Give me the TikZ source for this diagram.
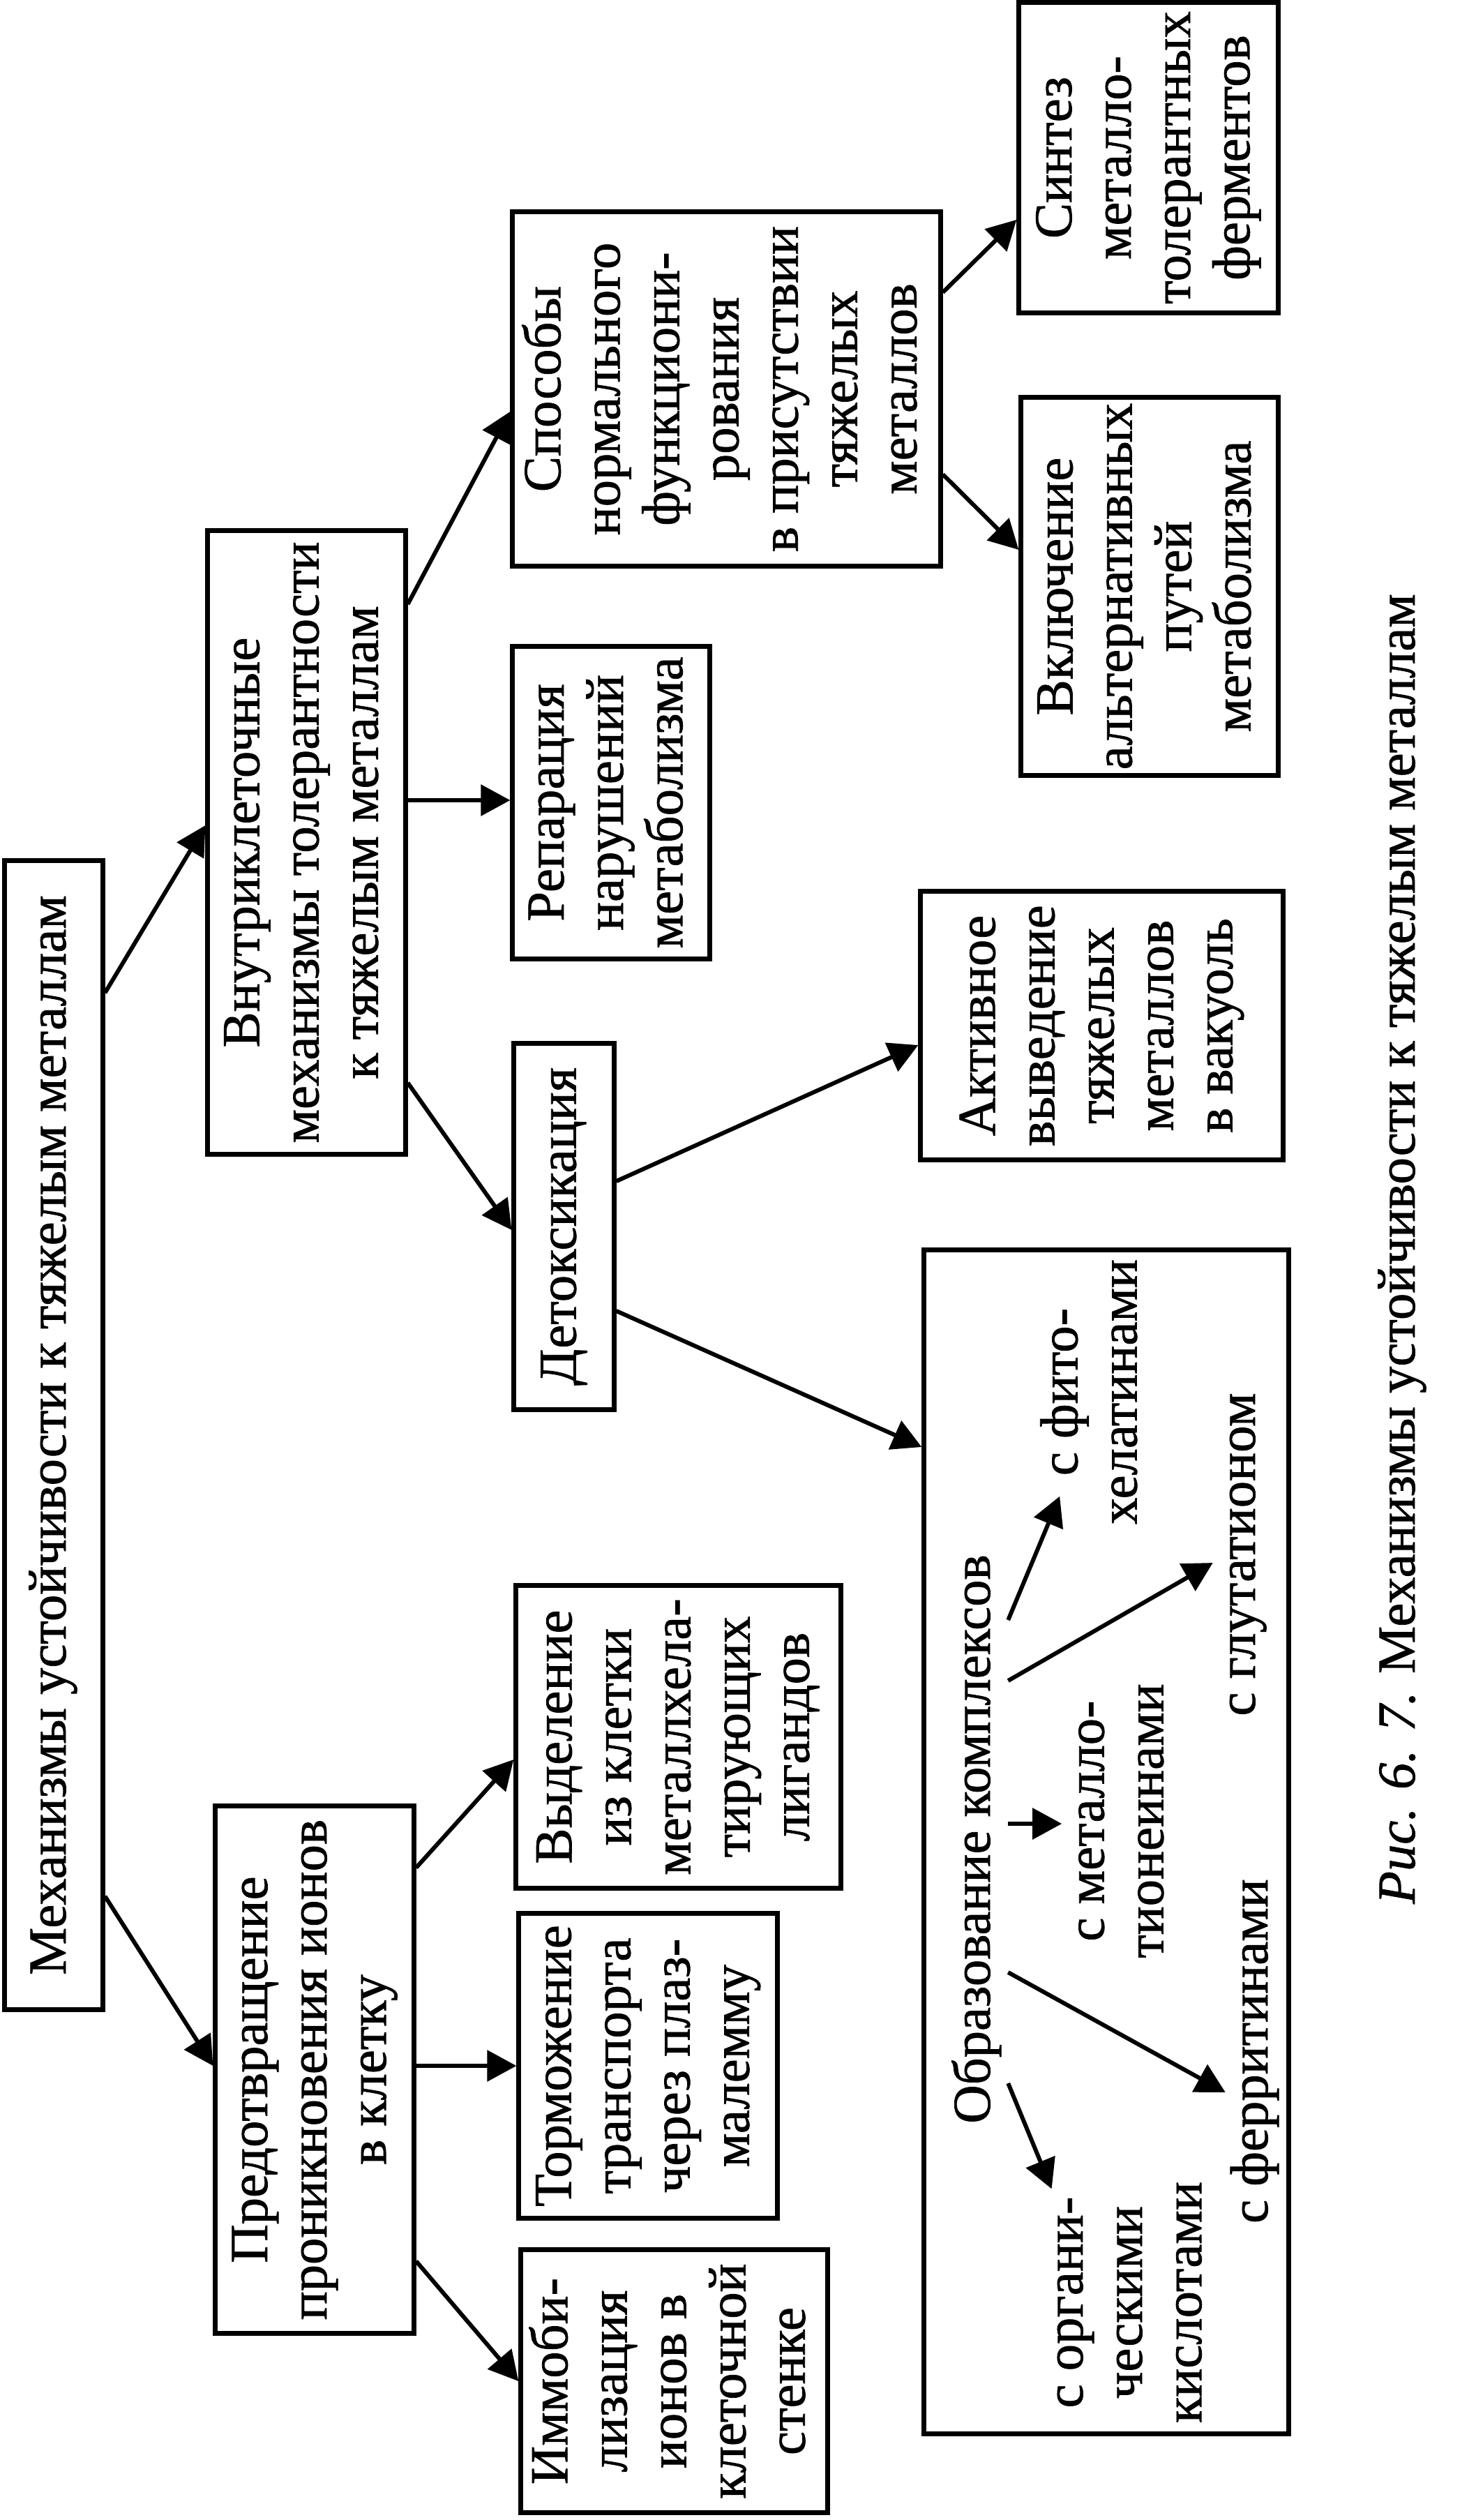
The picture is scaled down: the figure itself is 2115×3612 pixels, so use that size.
\documentclass[tikz,border=0pt]{standalone}
\usepackage{fontspec}
\setmainfont{Liberation Serif}[FakeBold=1.0]
\usepackage{graphicx}
\usetikzlibrary{arrows.meta,calc}
\newcommand\myrot[1]{\rotatebox{90}{\begin{tabular}{@{}c@{}}#1\end{tabular}}}
\begin{document}
\begin{tikzpicture}[x=0.01cm,y=-0.01cm,font=\fontsize{21.8}{24.2}\selectfont,
 box/.style={draw,line width=2.0pt,inner sep=0pt},
 lbl/.style={inner sep=0pt},
 arr/.style={line width=1.7pt,-{Triangle[length=0.42cm,width=0.44cm]}}]
\fill[white] (0,0) rectangle (2115,3612);
\useasboundingbox (0,0) rectangle (2115,3612);

% level 1
\node[box,minimum width=1.40cm,minimum height=16.46cm] (main) at (77,2057) {\myrot{Механизмы устойчивости к тяжелым металлам}};
% level 2
\node[box,minimum width=2.83cm,minimum height=8.93cm] (vn) at (439.5,1207.5) {\myrot{Внутриклеточные\\механизмы толерантности\\к тяжелым металлам}};
\node[box,minimum width=2.84cm,minimum height=7.55cm] (pr) at (451,2966.5) {\myrot{Предотвращение\\проникновения ионов\\в клетку}};
% level 3
\node[box,minimum width=6.13cm,minimum height=5.07cm] (sp) at (1041.5,557.5) {\myrot{Способы\\нормального\\функциони-\\рования\\в присутствии\\тяжелых\\металлов}};
\node[box,minimum width=2.82cm,minimum height=4.47cm] (rep) at (876,1150.5) {\myrot{Репарация\\нарушений\\метаболизма}};
\node[box,minimum width=1.43cm,minimum height=5.24cm] (det) at (808.5,1758) {\myrot{Детоксикация}};
\node[box,minimum width=4.65cm,minimum height=4.33cm] (vyd) at (972.5,2489.5) {\myrot{Выделение\\из клетки\\металлхела-\\тирующих\\лигандов}};
\node[box,minimum width=3.70cm,minimum height=4.36cm] (tor) at (929,2961) {\myrot{Торможение\\транспорта\\через плаз-\\малемму}};
\node[box,minimum width=4.39cm,minimum height=3.76cm] (imm) at (966.5,3413) {\myrot{Иммоби-\\лизация\\ионов в\\клеточной\\стенке}};
% level 4
\node[box,minimum width=3.71cm,minimum height=4.44cm] (sin) at (1646.5,226) {\myrot{Синтез\\металло-\\толерантных\\ферментов}};
\node[box,minimum width=3.68cm,minimum height=5.41cm] (vkl) at (1648,840.5) {\myrot{Включение\\альтернативных\\путей\\метаболизма}};
\node[box,minimum width=5.19cm,minimum height=3.84cm] (akt) at (1579.5,1470) {\myrot{Активное\\выведение\\тяжелых\\металлов\\в вакуоль}};
\node[box,minimum width=5.22cm,minimum height=16.96cm] (obr) at (1586,2640) {};
% inside the complex box
\node[lbl] (tobr) at (1402,2636) {\myrot{Образование комплексов}};
\node[lbl] (tfito) at (1570,1995) {\myrot{с фито-\\хелатинами}};
\node[lbl] (tmet) at (1608,2610) {\myrot{с металло-\\тионеинами}};
\node[lbl] (tglu) at (1782,2228) {\myrot{с глутатионом}};
\node[lbl] (tfer) at (1800,2940) {\myrot{с ферритинами}};
\node[lbl] (torg) at (1620,3300) {\myrot{с органи-\\ческими\\кислотами}};
% caption
\node[lbl] (cap) at (2010,1790) {\rotatebox{90}{\textit{Рис. 6. 7.} Механизмы устойчивости к тяжелым металлам}};

% connectors
\draw[arr] (main.east |- 0,1423) -- (vn.west |- 0,1183);
\draw[arr] (main.east |- 0,2718) -- (pr.west |- 0,2961);
\draw[arr] (vn.east |- 0,866) -- (sp.west |- 0,590);
\draw[arr] (vn.east |- 0,1147) -- (rep.west |- 0,1147);
\draw[arr] (vn.east |- 0,1552) -- (det.west |- 0,1763);
\draw[arr] (pr.east |- 0,2677) -- (vyd.west |- 0,2522);
\draw[arr] (pr.east |- 0,2961) -- (tor.west |- 0,2961);
\draw[arr] (pr.east |- 0,3241) -- (imm.west |- 0,3413);
\draw[arr] (sp.east |- 0,419) -- (sin.west |- 0,315);
\draw[arr] (sp.east |- 0,680) -- (vkl.west |- 0,788);
\draw[arr] (det.east |- 0,1693) -- (akt.west |- 0,1498);
\draw[arr] (det.east |- 0,1879) -- (obr.west |- 0,2074);
\draw[arr] (tobr.east |- 0,2322) -- ($(tfito.south west)+(35,-41)$);
\draw[arr] (tobr.east |- 0,2409) -- (tglu.west |- 0,2240);
\draw[arr] (tobr.east |- 0,2614) -- (tmet.west |- 0,2614);
\draw[arr] (tobr.east |- 0,2827) -- (tfer.west |- 0,2999);
\draw[arr] (tobr.east |- 0,2986) -- ($(torg.north west)+(16,11)$);
\end{tikzpicture}
\end{document}
